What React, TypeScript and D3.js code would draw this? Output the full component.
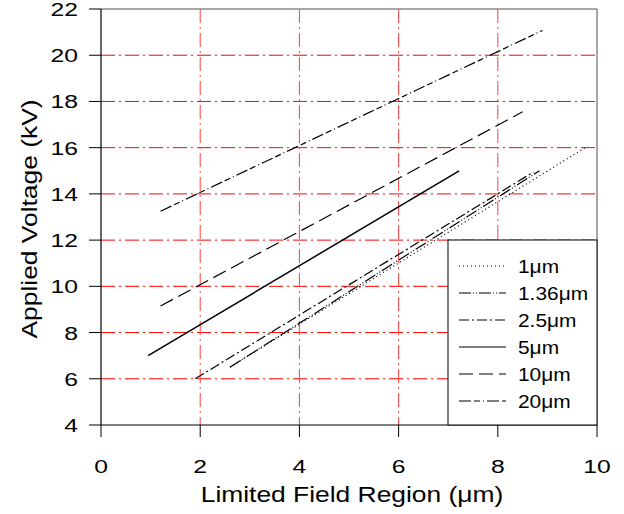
import React from "react";
import * as d3 from "d3";

const seriesNames = ["1\u03bcm", "1.36\u03bcm", "2.5\u03bcm", "5\u03bcm", "10\u03bcm", "20\u03bcm"];
const series1um = [[2.6, 6.5], [9.8, 16.05]];
const series136um = [[2.6, 6.5], [8.84, 15.0]];
const series25um = [[1.9, 6.0], [8.72, 14.95]];
const series5um = [[0.95, 7.0], [7.22, 15.0]];
const series10um = [[1.2, 9.15], [8.5, 17.55]];
const series20um = [[1.2, 13.25], [8.9, 21.07]];
const xTicks = [0, 2, 4, 6, 8, 10];
const yTicks = [4, 6, 8, 10, 12, 14, 16, 18, 20, 22];
const xGrid = [2, 4, 6, 8];
const yGrid = [6, 8, 10, 12, 14, 16, 18, 20];
const xTitle = "Limited Field Region (\u03bcm)";
const yTitle = "Applied Voltage (kV)";

const allSeries = [series1um, series136um, series25um, series5um, series10um, series20um];
const dashes = ["1,3", "12,2,1,2,1,2", "10,3,2,3", "", "14,6", "12,3,6,3,1,3"];
const widths = [1.2, 1.2, 1.2, 1.5, 1.2, 1.2];

function SText(props: { x: number; y: number; sx: number; size: number; anchor?: string; rotate?: number; children: any }) {
  const { x, y, sx, size, anchor, rotate, children } = props;
  const t = `translate(${x},${y})` + (rotate ? ` rotate(${rotate})` : "") + ` scale(${sx},1)`;
  return (
    <text transform={t} fontSize={size} textAnchor={anchor || "start"}>{children}</text>
  );
}

export default function App() {
  const left = 101, right = 597, top = 9, bottom = 425;
  const x = d3.scaleLinear().domain([0, 10]).range([left, right]);
  const y = d3.scaleLinear().domain([4, 22]).range([bottom, top]);
  const line = d3.line<number[]>().x(d => x(d[0])).y(d => y(d[1]));
  const font = "Arial, 'Liberation Sans', sans-serif";
  const legX = 448, legY = 240;
  return (
    <svg width={624} height={514} style={{ position: "absolute", left: 0, top: 0 }} fontFamily={font}>
      <rect x={0} y={0} width={624} height={514} fill="white" />
      {yGrid.map(v => (
        <line key={"hy" + v} x1={left} x2={right} y1={y(v)} y2={y(v)} stroke="#ff0000" strokeWidth={1} strokeDasharray="14,4,2,4" />
      ))}
      {xGrid.map(v => (
        <line key={"vx" + v} x1={x(v)} x2={x(v)} y1={top} y2={bottom} stroke="#ff4040" strokeWidth={1} strokeDasharray="14,4,2,4" />
      ))}
      {allSeries.map((s, i) => (
        <path key={"s" + i} d={line(s) || ""} fill="none" stroke="black" strokeWidth={widths[i]} strokeDasharray={dashes[i] || undefined} />
      ))}
      <line x1={left} x2={right} y1={top} y2={top} stroke="#888" strokeWidth={1.5} />
      <line x1={right} x2={right} y1={top} y2={bottom} stroke="#888" strokeWidth={1.5} />
      <line x1={left} x2={left} y1={top} y2={bottom} stroke="black" strokeWidth={1.2} />
      <line x1={left} x2={right} y1={bottom} y2={bottom} stroke="black" strokeWidth={1.2} />
      {xTicks.map(v => (
        <g key={"xt" + v}>
          <line x1={x(v)} x2={x(v)} y1={bottom} y2={bottom + 12} stroke="black" strokeWidth={1} />
          <SText x={x(v)} y={473} sx={1.3} size={19} anchor="middle">{String(v)}</SText>
        </g>
      ))}
      {yTicks.map(v => (
        <g key={"yt" + v}>
          <line x1={left - 12} x2={left} y1={y(v)} y2={y(v)} stroke="black" strokeWidth={1} />
          <SText x={78} y={y(v) + 7} sx={1.3} size={19} anchor="end">{String(v)}</SText>
        </g>
      ))}
      <SText x={352} y={502} sx={1.2} size={22} anchor="middle">{xTitle}</SText>
      <SText x={37} y={219} sx={1.2} size={22} anchor="middle" rotate={-90}>{yTitle}</SText>
      <rect x={legX} y={legY} width={right - legX} height={bottom - legY} fill="white" stroke="black" strokeWidth={1} />
      {seriesNames.map((n, i) => {
        const ry = 266 + i * 27;
        return (
          <g key={"lg" + i}>
            <line x1={459} x2={506} y1={ry} y2={ry} stroke="black" strokeWidth={1.2} strokeDasharray={dashes[i] || undefined} />
            <SText x={518} y={ry + 6.5} sx={1.1} size={19}>{n}</SText>
          </g>
        );
      })}
    </svg>
  );
}
